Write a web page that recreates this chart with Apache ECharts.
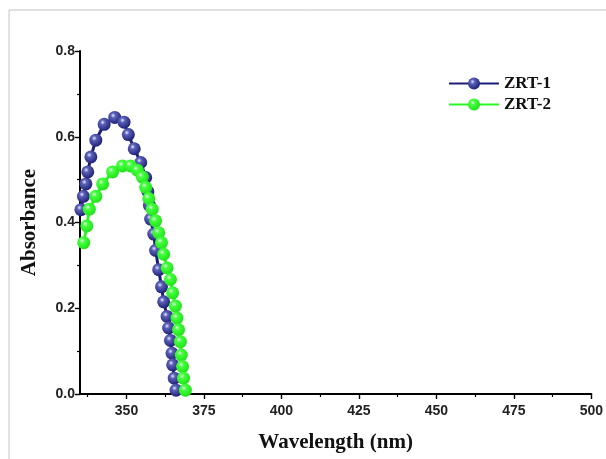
<!DOCTYPE html>
<html>
<head>
<meta charset="utf-8">
<script src="https://cdn.jsdelivr.net/npm/echarts@6/dist/echarts.min.js"></script>
<style>html,body{margin:0;padding:0;background:#fff;}#c{width:606px;height:459px;}</style>
</head>
<body>
<div id="c"></div>
<script>
var seriesNames = ['ZRT-1', 'ZRT-2'];
var zrt1Wavelength = [335.3,336.1,336.9,337.5,338.5,340.1,342.8,346.2,349.2,350.6,352.5,354.6,356.2,356.9,357.4,357.8,358.8,359.4,360.4,361.3,362.0,363.1,363.6,364.2,364.7,364.9,365.4,366.0];
var zrt1Absorbance = [0.430,0.461,0.490,0.518,0.553,0.592,0.629,0.645,0.634,0.605,0.572,0.540,0.505,0.472,0.440,0.408,0.373,0.335,0.290,0.250,0.215,0.181,0.154,0.125,0.095,0.068,0.037,0.009];
var zrt2Wavelength = [336.2,337.2,338.0,340.1,342.3,345.5,348.7,351.3,353.5,355.1,356.2,357.2,358.3,359.4,360.4,361.3,362.0,363.1,364.2,364.9,365.8,366.3,366.8,367.4,367.7,368.1,368.4,369.0];
var zrt2Absorbance = [0.353,0.392,0.431,0.461,0.490,0.518,0.532,0.532,0.522,0.506,0.482,0.456,0.431,0.404,0.376,0.353,0.326,0.294,0.267,0.236,0.205,0.177,0.150,0.122,0.091,0.064,0.037,0.009];
var xMajorTicks = [350,375,400,425,450,475,500];
var xMinorTicks = [337.5,362.5,387.5,412.5,437.5,462.5,487.5];

function pairs(xs, ys){ return xs.map(function(x,i){ return [x, ys[i]]; }); }
function ball(light, mid, dark){
  return {type:'radial', x:0.38, y:0.35, r:0.75,
    colorStops:[{offset:0,color:light},{offset:0.25,color:mid},{offset:1,color:dark}]};
}
var chart = echarts.init(document.getElementById('c'), null, {renderer:'canvas'});
var axisLineStyle = {color:'#000', width:2};
chart.setOption({
  animation:false,
  backgroundColor:'#fff',
  graphic:[{type:'polyline', shape:{points:[[9,459],[9,10],[606,10]]}, style:{stroke:'#c4c4c4', fill:null, lineWidth:1}}],
  legend:{
    orient:'vertical', left:443, top:70, itemGap:4, itemWidth:50, itemHeight:15,
    textStyle:{fontFamily:'Liberation Serif', fontWeight:'bold', fontSize:17, color:'#111'},
    data:seriesNames
  },
  grid:{left:80, right:11, top:51, bottom:65},
  xAxis:[{
    type:'value', min:335, max:500,
    name:'Wavelength (nm)', nameLocation:'middle', nameGap:38,
    nameTextStyle:{fontFamily:'Liberation Serif', fontWeight:'bold', fontSize:21, color:'#111'},
    axisLine:{lineStyle:axisLineStyle},
    axisTick:{show:true, length:5, lineStyle:{color:'#000', width:1.4}, customValues:xMajorTicks},
    axisLabel:{customValues:xMajorTicks, fontFamily:'Liberation Sans', fontWeight:'bold', fontSize:14, color:'#222', margin:10},
    splitLine:{show:false}
  },{
    type:'value', min:335, max:500, position:'bottom',
    axisLine:{show:false},
    axisTick:{show:true, length:3, lineStyle:{color:'#000', width:1.2}, customValues:xMinorTicks},
    axisLabel:{show:false}, splitLine:{show:false}
  }],
  yAxis:{
    type:'value', min:0, max:0.8, interval:0.2,
    name:'Absorbance', nameLocation:'middle', nameGap:40, nameRotate:90,
    nameTextStyle:{fontFamily:'Liberation Serif', fontWeight:'bold', fontSize:21, color:'#111'},
    axisLine:{show:true, lineStyle:axisLineStyle},
    axisTick:{show:true, length:5, lineStyle:{color:'#000', width:1.4}},
    minorTick:{show:true, splitNumber:2, length:3, lineStyle:{color:'#000', width:1.2}},
    axisLabel:{fontFamily:'Liberation Sans', fontWeight:'bold', fontSize:14, color:'#222', margin:5,
      formatter:function(v){ return v.toFixed(1); }},
    splitLine:{show:false}
  },
  series:[{
    name:seriesNames[0], type:'line', data:pairs(zrt1Wavelength, zrt1Absorbance),
    symbol:'circle', symbolSize:13, showAllSymbol:true,
    lineStyle:{color:'#1c1f78', width:3},
    itemStyle:{color:ball('#e8e8ff','#5a5fb8','#14166a'), borderWidth:0}
  },{
    name:seriesNames[1], type:'line', data:pairs(zrt2Wavelength, zrt2Absorbance),
    symbol:'circle', symbolSize:13, showAllSymbol:true,
    lineStyle:{color:'#2af526', width:3},
    itemStyle:{color:ball('#f0fff0','#44ff3e','#18dc12'), borderWidth:0}
  }]
});
</script>
</body>
</html>
